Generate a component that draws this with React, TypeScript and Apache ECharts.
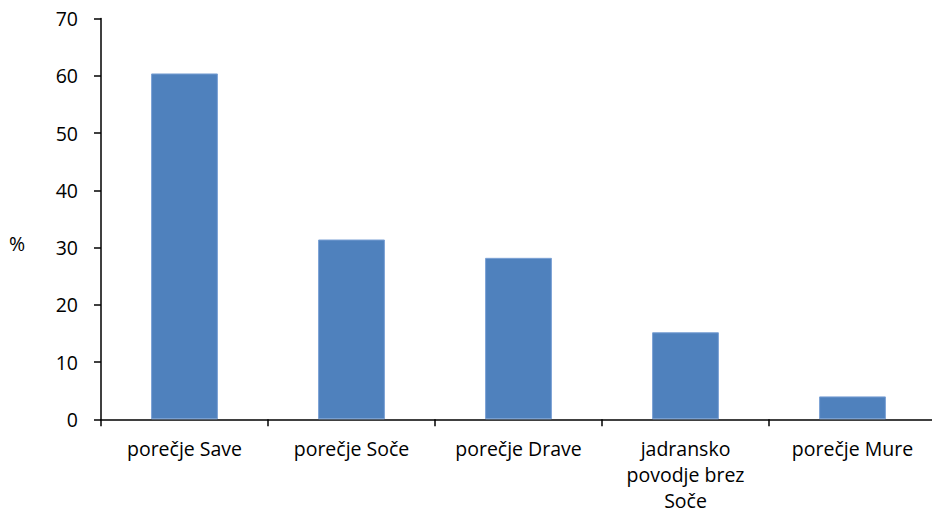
import React, { useEffect, useRef } from "react";
import * as echarts from "echarts";

const categories = [
  "porečje Save",
  "porečje Soče",
  "porečje Drave",
  "jadransko\npovodje brez\nSoče",
  "porečje Mure",
];
const shares = [60.4, 31.4, 28.2, 15.2, 4.0];
const yMin = 0;
const yMax = 70;
const yStep = 10;

const FONT = "'Open Sans', 'Noto Sans', sans-serif";

export default function App() {
  const ref = useRef<HTMLDivElement>(null);

  useEffect(() => {
    if (!ref.current) return;
    const chart = echarts.init(ref.current, undefined, { renderer: "svg" });
    chart.setOption({
      animation: false,
      backgroundColor: "#ffffff",
      grid: {
        left: 101,
        right: -4,
        top: 18.5,
        bottom: 95.7,
        containLabel: false,
        outerBoundsMode: "none",
      },
      xAxis: {
        type: "category",
        data: categories,
        axisLine: { show: true, lineStyle: { color: "#000", width: 1.5 } },
        axisTick: { show: true, length: 7, lineStyle: { color: "#000", width: 1.5 } },
        axisLabel: {
          color: "#000",
          fontFamily: FONT,
          fontSize: 19.5,
          lineHeight: 26,
          margin: 16,
          interval: 0,
        },
      },
      yAxis: {
        type: "value",
        min: yMin,
        max: yMax,
        interval: yStep,
        splitLine: { show: false },
        axisLine: { show: true, lineStyle: { color: "#000", width: 1.5 } },
        axisTick: { show: true, length: 7, lineStyle: { color: "#000", width: 1.5 } },
        axisLabel: { color: "#000", fontFamily: FONT, fontSize: 19.5, margin: 23 },
      },
      graphic: [
        {
          type: "text",
          left: 9,
          top: 233,
          style: { text: "%", fill: "#000", font: `19.5px ${FONT}` },
        },
      ],
      series: [
        {
          type: "bar",
          data: shares,
          barCategoryGap: "60%",
          itemStyle: { color: "#4f81bd", borderColor: "#7aa0d4", borderWidth: 1 },
        },
      ],
    });
    return () => chart.dispose();
  }, []);

  return (
    <div
      ref={ref}
      style={{ position: "absolute", left: 0, top: 0, width: 932, height: 515 }}
    />
  );
}
